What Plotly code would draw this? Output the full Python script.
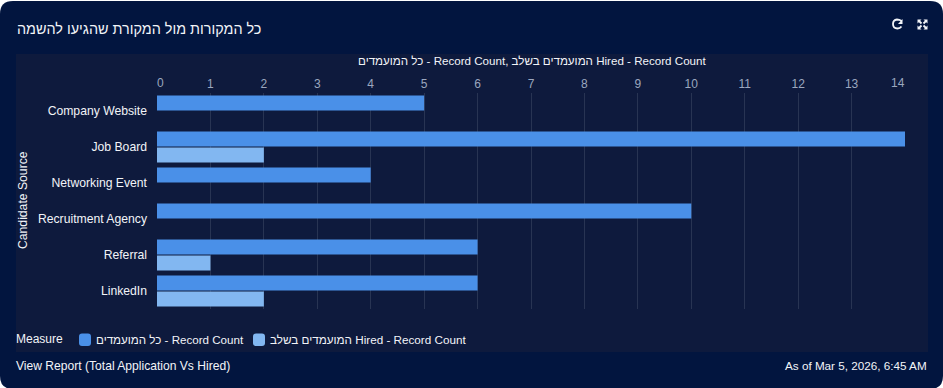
import plotly.graph_objects as go

W, H = 943, 388
PL, PR, PT, PB = 157, 905, 93, 309
categories = ["Company Website", "Job Board", "Networking Event",
              "Recruitment Agency", "Referral", "LinkedIn"]
all_candidates = [5, 14, 4, 10, 6, 6]
hired = [None, 2, None, None, 1, 2]
series_names = ["כל המועמדים - Record Count", "המועמדים בשלב Hired - Record Count"]
x_ticks = list(range(15))
title_text = "כל המקורות מול המקורת שהגיעו להשמה"
axis_title = "כל המועמדים - Record Count, המועמדים בשלב Hired - Record Count"
y_title = "Candidate Source"
legend_title = "Measure"
footer_left = "View Report (Total Application Vs Hired)"
footer_right = "As of Mar 5, 2026, 6:45 AM"

FONT = "Liberation Sans, Arial, sans-serif"
CARD = "#02153f"
PANEL = "#0e1a3d"
GRID = "#283453"
BLUE = "#4a90e8"
LIGHT = "#82b7f1"
TICK = "#9ba7bf"
WHITE = "#f2f4f8"


def px(x):
    return (x - PL) / (PR - PL)


def py(y):
    return (PB - y) / (PB - PT)


def rounded(x0, y0, x1, y1, r):
    return (f"M{px(x0+r)},{py(y0)} L{px(x1-r)},{py(y0)} "
            f"Q{px(x1)},{py(y0)} {px(x1)},{py(y0+r)} L{px(x1)},{py(y1-r)} "
            f"Q{px(x1)},{py(y1)} {px(x1-r)},{py(y1)} L{px(x0+r)},{py(y1)} "
            f"Q{px(x0)},{py(y1)} {px(x0)},{py(y1-r)} L{px(x0)},{py(y0+r)} "
            f"Q{px(x0)},{py(y0)} {px(x0+r)},{py(y0)} Z")


def poly(points, close=False):
    s = " ".join(("M" if i == 0 else "L") + f"{px(a)},{py(b)}" for i, (a, b) in enumerate(points))
    return s + (" Z" if close else "")


fig = go.Figure()
fig.add_bar(y=categories, x=all_candidates, name=series_names[0], orientation="h",
            marker=dict(color=BLUE, line_width=0), hoverinfo="x+y+name")
fig.add_bar(y=categories, x=hired, name=series_names[1], orientation="h",
            marker=dict(color=LIGHT, line_width=0), hoverinfo="x+y+name")


def note(text, x, y, anchor="left", size=12, color=WHITE, **kw):
    return dict(text=text, x=px(x), y=py(y), xref="paper", yref="paper", showarrow=False,
                xanchor=anchor, yanchor="middle", borderpad=0, borderwidth=0,
                font=dict(family=FONT, size=size, color=color), **kw)


annotations = [
    note(title_text, 261, 29, "right", 14.4),
    note(axis_title, 531.5, 60.5, "center", 11.6),
    note(y_title, 23, 200, "center", 12.2, textangle=-90),
    note(footer_left, 16, 366, size=12.1),
    note(footer_right, 927, 365, "right", 11.7),
    note(legend_title, 16, 339),
    note(series_names[0], 96, 339, size=11.6),
    note(series_names[1], 270, 339, size=11.7),
    dict(text=str(x_ticks[0]), x=x_ticks[0], y=1, xref="x", yref="paper", yanchor="bottom",
         showarrow=False, xshift=3, yshift=1, font=dict(family=FONT, size=12, color=TICK)),
    dict(text=str(x_ticks[-1]), x=x_ticks[-1], y=1, xref="x", yref="paper", yanchor="bottom",
         showarrow=False, xshift=-7, yshift=1, font=dict(family=FONT, size=12, color=TICK)),
]

icon_line = dict(color=WHITE, width=1.8)
shapes = [
    dict(type="path", path=rounded(0, 1, W, H + 1, 13), xref="paper", yref="paper",
         fillcolor=CARD, line_width=0, layer="below"),
    dict(type="rect", x0=px(16), x1=px(928), y0=py(54), y1=py(352), xref="paper", yref="paper",
         fillcolor=PANEL, line_width=0, layer="below"),
    dict(type="path", path=rounded(79, 333.5, 91, 346, 3), xref="paper", yref="paper",
         fillcolor=BLUE, line_width=0),
    dict(type="path", path=rounded(253, 333.5, 265, 346, 3), xref="paper", yref="paper",
         fillcolor=LIGHT, line_width=0),
    # refresh icon
    dict(type="path", xref="paper", yref="paper", line=icon_line,
         path=f"M{px(902)},{py(21)} Q{px(899)},{py(19.5)} {px(897)},{py(19.5)} "
              f"Q{px(893)},{py(20)} {px(893)},{py(24)} Q{px(893)},{py(28.5)} {px(897.5)},{py(28.5)} "
              f"Q{px(900)},{py(28.5)} {px(901.5)},{py(26.5)}"),
    dict(type="path", xref="paper", yref="paper", fillcolor=WHITE, line_width=0,
         path=poly([(902.5, 19), (902.5, 24), (898, 24)], True)),
]
# expand icon: four corner arrows
for cx, cy, sx, sy in [(917.5, 19.5, 1, 1), (927.5, 19.5, -1, 1),
                       (917.5, 29.5, 1, -1), (927.5, 29.5, -1, -1)]:
    shapes.append(dict(type="path", xref="paper", yref="paper", fillcolor=WHITE, line_width=0,
                       path=poly([(cx, cy), (cx + 4 * sx, cy), (cx, cy + 4 * sy)], True)))
    shapes.append(dict(type="path", xref="paper", yref="paper", line=icon_line,
                       path=poly([(cx + 1 * sx, cy + 1 * sy), (cx + 4 * sx, cy + 4 * sy)])))

fig.update_layout(
    width=W, height=H, autosize=False,
    margin=dict(l=PL, r=W - PR, t=PT, b=H - PB, pad=0),
    paper_bgcolor="#ffffff", plot_bgcolor="rgba(0,0,0,0)",
    font=dict(family=FONT, size=12, color=WHITE),
    barmode="group", bargap=0.111, bargroupgap=0.0625,
    showlegend=False,
    xaxis=dict(side="top", range=[0, 14], tickvals=x_ticks,
               ticktext=["" if v in (x_ticks[0], x_ticks[-1]) else str(v) for v in x_ticks],
               showgrid=True, gridcolor=GRID, gridwidth=1, zeroline=False, showline=False,
               ticks="", tickfont=dict(family=FONT, size=12, color=TICK), ticklabelstandoff=2),
    yaxis=dict(autorange="reversed", showgrid=False, zeroline=False, showline=False,
               ticks="", tickfont=dict(family=FONT, size=12.2, color=WHITE), ticklabelstandoff=9),
    annotations=annotations,
    shapes=shapes,
)
fig.write_html("out.html", config=dict(displayModeBar=False),
               post_script="document.body.style.margin='0';")
